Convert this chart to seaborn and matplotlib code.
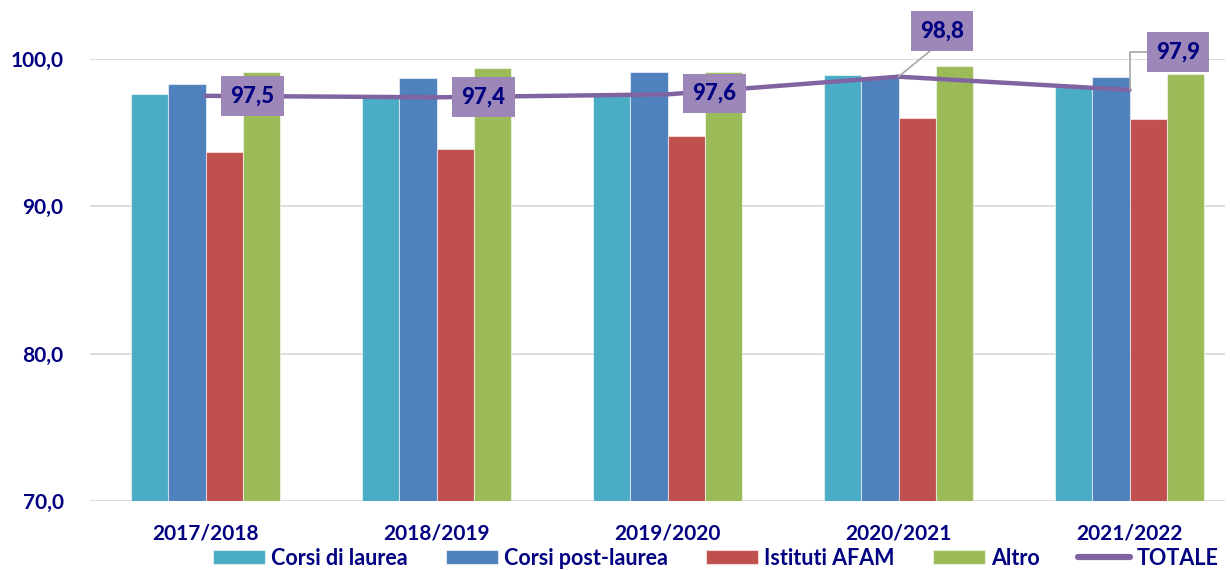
import numpy as np
import pandas as pd
import matplotlib
matplotlib.use("Agg")
import matplotlib.pyplot as plt
import seaborn as sns

anni = ["2017/2018", "2018/2019", "2019/2020", "2020/2021", "2021/2022"]
corsi_laurea = [97.6, 97.5, 97.5, 98.9, 98.1]
corsi_post_laurea = [98.3, 98.7, 99.1, 98.8, 98.8]
istituti_afam = [93.7, 93.9, 94.8, 96.0, 95.9]
altro = [99.1, 99.4, 99.1, 99.5, 99.0]
totale = [97.5, 97.4, 97.6, 98.8, 97.9]
serie_nomi = ["Corsi di laurea", "Corsi post-laurea", "Istituti AFAM", "Altro"]
colori = ["#4BACC6", "#4F81BD", "#C0504D", "#9BBB59"]
y_ticks = [70, 80, 90, 100]

sns.set_theme(style="white")
plt.rcParams["font.family"] = ["Lato", "DejaVu Sans"]
plt.rcParams["font.weight"] = "bold"
navy = "#000080"

rows = []
for nome, vals in zip(serie_nomi, [corsi_laurea, corsi_post_laurea, istituti_afam, altro]):
    for a, v in zip(anni, vals):
        rows.append({"anno": a, "serie": nome, "valore": v})
df = pd.DataFrame(rows)

fig = plt.figure(figsize=(12.3, 5.7), dpi=100)
W, H = 1230, 570
left_px, right_px, top_px, bot_px = 90, 1225, 59, 501
ax = fig.add_axes([left_px / W, (H - bot_px) / H, (right_px - left_px) / W, (bot_px - top_px) / H])

sns.barplot(data=df, x="anno", y="valore", hue="serie", hue_order=serie_nomi,
            order=anni, palette=colori, saturation=1, width=0.645, ax=ax,
            edgecolor=(1, 1, 1, 0.55), linewidth=0.8, legend=True)

xpos = np.arange(len(anni))
sns.lineplot(x=xpos, y=totale, color="#8064A2", linewidth=3.2, ax=ax, label="TOTALE",
             solid_capstyle="round", zorder=5)

ax.set_ylim(70, 100)
ax.set_xlim(-0.5, -0.5 + (right_px - left_px) / 231.0)
ax.set_yticks(y_ticks)
ax.set_yticklabels([f"{t:.1f}".replace(".", ",") for t in y_ticks])
ax.set_xticks(xpos)
ax.set_xticklabels(anni)
ax.set_xlabel("")
ax.set_ylabel("")
ax.grid(axis="y", color="#D9D9D9", linewidth=1.3)
ax.set_axisbelow(True)
for s in ["top", "right", "left", "bottom"]:
    ax.spines[s].set_visible(False)
ax.tick_params(axis="y", length=0, pad=19, labelsize=15, labelcolor=navy)
ax.tick_params(axis="x", length=0, pad=16, labelsize=15, labelcolor=navy)
for lab in ax.get_xticklabels() + ax.get_yticklabels():
    lab.set_fontweight("bold")

# data labels for TOTALE
offsets = [(47, 0), (47, 0), (47, 1), (43.5, 46), (48.5, 38)]
box = dict(boxstyle="square,pad=0.42", fc="#9C87B8", ec="none")
for i, (v, off) in enumerate(zip(totale, offsets)):
    kw = {}
    if i == 3:
        kw["arrowprops"] = dict(arrowstyle="-", color="#A6A6A6", lw=1.2,
                                shrinkA=0, shrinkB=0, relpos=(0.5, 0.0))
    elif i == 4:
        kw["arrowprops"] = dict(arrowstyle="-", color="#A6A6A6", lw=1.2,
                                shrinkA=0, shrinkB=0, relpos=(0.0, 0.5),
                                connectionstyle="angle,angleA=0,angleB=90,rad=0")
    ax.annotate(f"{v:.1f}".replace(".", ","), xy=(i, v), xytext=off,
                textcoords="offset pixels", ha="center", va="center",
                fontsize=16, fontweight="black", color=navy, bbox=box,
                zorder=6, annotation_clip=False, **kw)

handles, labels = ax.get_legend_handles_labels()
ax.get_legend().remove()
leg = fig.legend(handles, labels, loc="center", bbox_to_anchor=(0.5817, 0.021),
                 ncol=5, frameon=False, fontsize=15.5, handlelength=2.42,
                 handleheight=0.62, handletextpad=0.3, columnspacing=1.75)
for t in leg.get_texts():
    t.set_color(navy)
    t.set_fontweight("bold")
for lh in leg.get_lines():
    lh.set_linewidth(4.5)

fig.savefig("out.png", dpi=100)
